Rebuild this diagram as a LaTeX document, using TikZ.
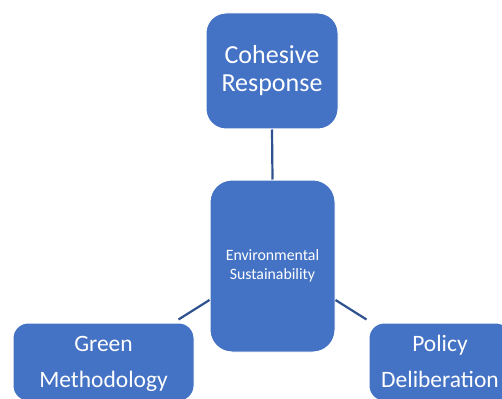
\documentclass[tikz,border=0pt]{standalone}
\usepackage{fontspec}
\setmainfont{Carlito}
\definecolor{boxblue}{HTML}{4472C4}
\definecolor{linkblue}{HTML}{2F528F}
\tikzset{
  box/.style={draw=white, line width=1pt, fill=boxblue, text=white, align=center, inner sep=0pt},
  link/.style={draw=linkblue, line width=2.2pt}
}
\begin{document}
\begin{tikzpicture}[x=1pt,y=-1pt]
\useasboundingbox (0,0) rectangle (502,398);
\clip (0,0) rectangle (502,398);
\fill[white] (0,0) rectangle (502,398);
\node[box, rounded corners=20pt, minimum width=132pt, minimum height=116pt,
      font=\fontsize{26}{28}\selectfont] (top) at (272,71) {Cohesive\\Response};
\node[box, rounded corners=22pt, minimum width=125pt, minimum height=172pt,
      font=\fontsize{15.8}{18.5}\selectfont] (mid) at (272.5,266) {Environmental\\Sustainability};
\node[box, rounded corners=15pt, minimum width=181pt, minimum height=78pt,
      font=\fontsize{23.5}{36}\selectfont] (green) at (103.5,362) {\strut Green\\Methodology\strut};
\node[box, rounded corners=15pt, minimum width=142pt, minimum height=78pt,
      font=\fontsize{23.5}{36}\selectfont] (policy) at (440,362) {\strut Policy\\Deliberation\strut};
\draw[link] (top.south) -- (mid.north);
\draw[link] ([yshift=-34pt]mid.west) -- ([xshift=-16pt,yshift=3pt]green.north east);
\draw[link] ([yshift=-34pt]mid.east) -- ([xshift=-2pt,yshift=3pt]policy.north west);
\end{tikzpicture}
\end{document}
